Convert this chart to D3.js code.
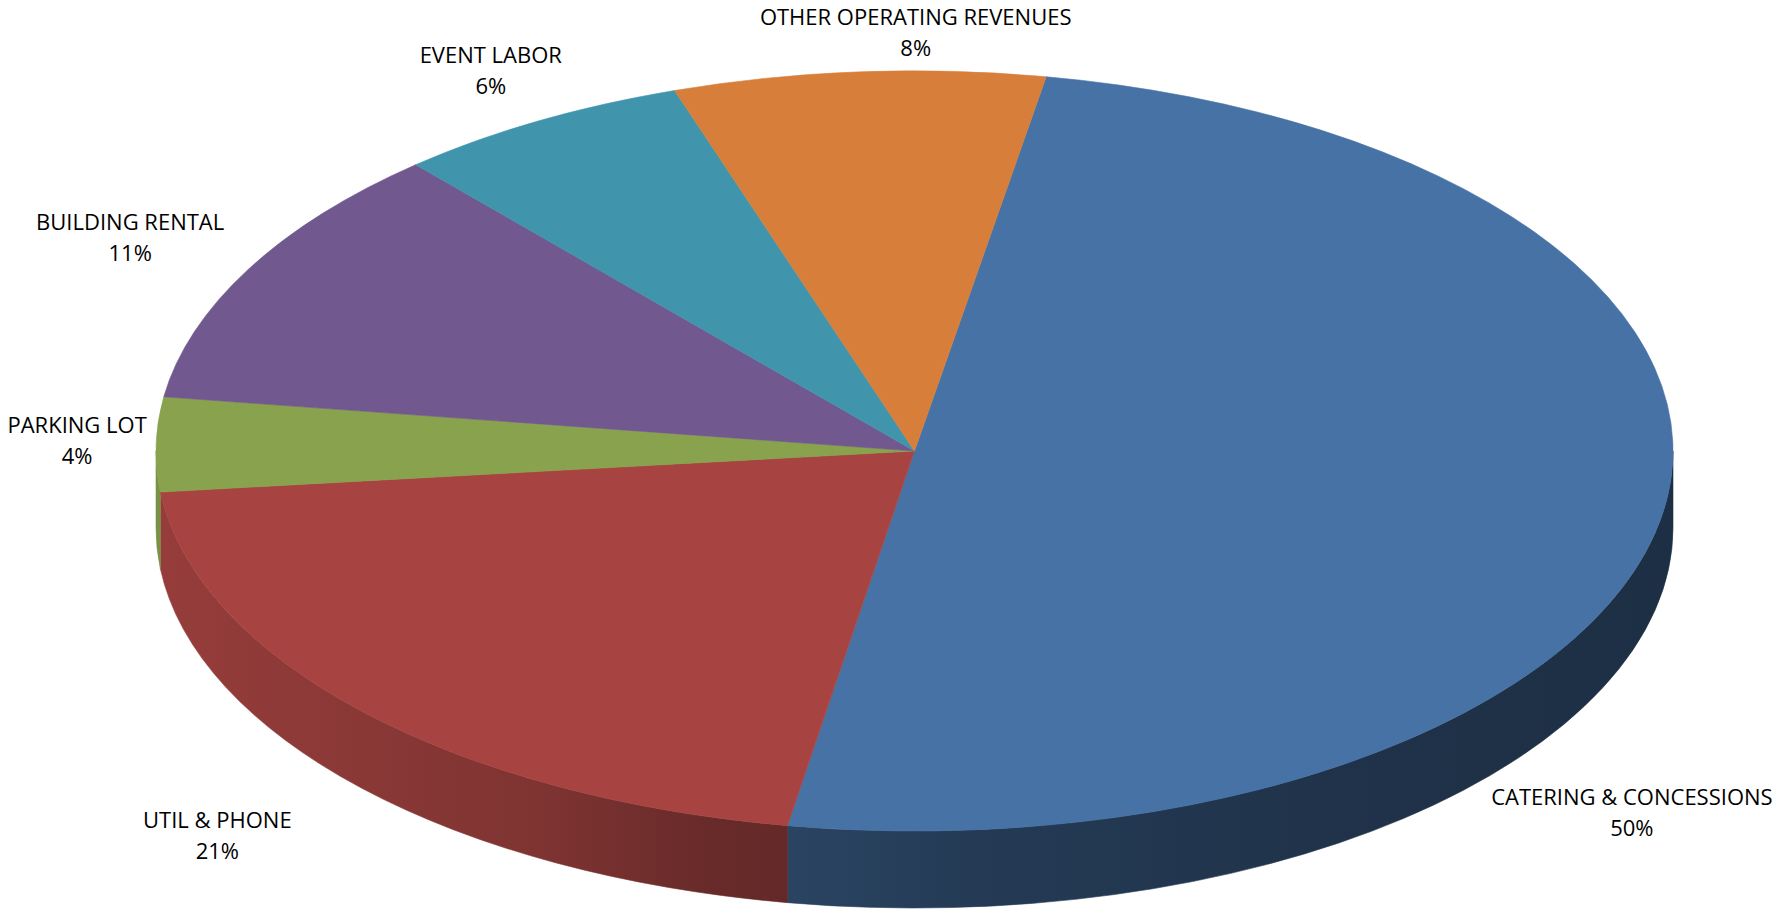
<!DOCTYPE html>
<html>
<head>
<meta charset="utf-8">
<script src="https://cdn.jsdelivr.net/npm/d3@7"></script>
<style>
  body { margin: 0; background: #fff; }
  text { font-family: "Open Sans", sans-serif; font-size: 22px; fill: #000; }
</style>
</head>
<body>
<svg id="chart"></svg>
<script>
// data
var categories = ["CATERING & CONCESSIONS", "UTIL & PHONE", "PARKING LOT", "BUILDING RENTAL", "EVENT LABOR", "OTHER OPERATING REVENUES"];
var values = [49.9, 20.6, 4.0, 11.3, 6.3, 7.9];
var colors = ["#4672a5", "#a74442", "#88a24d", "#71588f", "#4095ad", "#d77f3a"];

// label placement relative to the rim point at the slice middle
var labelNudge = [[-30, 289], [-145, 116], [-79, -11], [-118, -39], [-47, -58], [57, -47]];

var width = 1780, height = 911;
var cx = 914.5, cy = 451, rx = 758.5, ry = 380, depth = 77;

var svg = d3.select("#chart")
    .attr("width", width)
    .attr("height", height);

var total = d3.sum(values);
var pct = d3.format(".0%");

var pie = d3.pie()
    .sort(null)
    .startAngle(10 * Math.PI / 180)
    .endAngle(10 * Math.PI / 180 + 2 * Math.PI);

var arcs = pie(values);

// projection of an angle on the tilted disc
function px(a) { return cx + rx * Math.sin(a); }
function py(a, dz) { return cy - ry * Math.cos(a) + (dz || 0); }

function topPath(d) {
  var large = (d.endAngle - d.startAngle) > Math.PI ? 1 : 0;
  return "M" + cx + "," + cy +
    "L" + px(d.startAngle) + "," + py(d.startAngle) +
    "A" + rx + "," + ry + " 0 " + large + " 1 " + px(d.endAngle) + "," + py(d.endAngle) + "Z";
}

function sidePath(d) {
  var s = Math.max(d.startAngle, Math.PI / 2),
      e = Math.min(d.endAngle, 3 * Math.PI / 2);
  if (e <= s) return null;
  return "M" + px(s) + "," + py(s) +
    "A" + rx + "," + ry + " 0 0 1 " + px(e) + "," + py(e) +
    "L" + px(e) + "," + py(e, depth) +
    "A" + rx + "," + ry + " 0 0 0 " + px(s) + "," + py(s, depth) + "Z";
}

// side shading, lighter on the left, darker to the right
var shade = [[0, 0.9], [0.25, 0.76], [0.36, 0.63], [0.55, 0.51], [0.8, 0.44], [1, 0.41]];

var defs = svg.append("defs");
colors.forEach(function(c, i) {
  var g = defs.append("linearGradient")
      .attr("id", "side" + i)
      .attr("gradientUnits", "userSpaceOnUse")
      .attr("x1", cx - rx).attr("x2", cx + rx)
      .attr("y1", 0).attr("y2", 0);
  var base = d3.rgb(c);
  shade.forEach(function(s) {
    g.append("stop")
      .attr("offset", s[0])
      .attr("stop-color", d3.rgb(base.r * s[1], base.g * s[1], base.b * s[1]).formatHex());
  });
});

svg.append("g")
  .selectAll("path")
  .data(arcs.filter(function(d) { return sidePath(d); }))
  .enter()
  .append("path")
    .attr("d", sidePath)
    .attr("fill", function(d) { return "url(#side" + d.index + ")"; })
    .attr("stroke", function(d) { return "url(#side" + d.index + ")"; })
    .attr("stroke-width", 0.6)
    .attr("stroke-linejoin", "round");

svg.append("g")
  .selectAll("path")
  .data(arcs)
  .enter()
  .append("path")
    .attr("d", topPath)
    .attr("fill", function(d) { return colors[d.index]; })
    .attr("stroke", function(d) { return colors[d.index]; })
    .attr("stroke-width", 0.6)
    .attr("stroke-linejoin", "round");

var labels = svg.append("g")
  .selectAll("text")
  .data(arcs)
  .enter()
  .append("text")
    .attr("text-anchor", "middle")
    .attr("transform", function(d) {
      var m = (d.startAngle + d.endAngle) / 2;
      var n = labelNudge[d.index];
      return "translate(" + (px(m) + n[0]) + "," + (py(m) + n[1]) + ")";
    });

labels.append("tspan")
  .attr("x", 0).attr("y", 0)
  .text(function(d) { return categories[d.index]; });
labels.append("tspan")
  .attr("x", 0).attr("y", 31)
  .text(function(d) { return pct(d.value / total); });
</script>
</body>
</html>
